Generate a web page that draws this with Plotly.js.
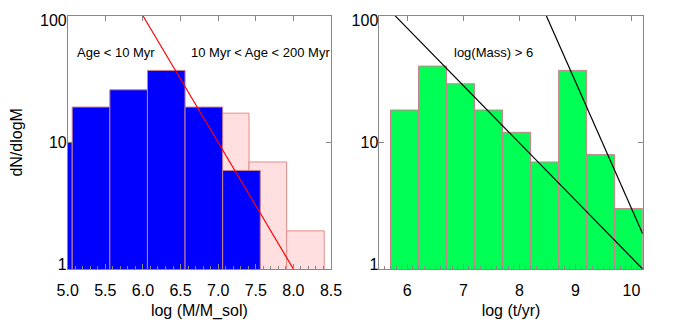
<!DOCTYPE html>
<html><head><meta charset="utf-8">
<script src="https://cdn.plot.ly/plotly-3.0.1.min.js"></script>
<style>html,body{margin:0;padding:0;background:#fff}#plot{width:676px;height:325px}</style>
</head><body><div id="plot"></div>
<script>
// Left panel: mass function
const massBinsYoung = [4.81, 5.31, 5.81, 6.31, 6.81, 7.31];
const countsYoung   = [10, 19, 26, 37, 19, 6];
const massBinsOld   = [7.16, 7.66, 8.16];
const countsOld     = [17, 7, 2];
const massFitX = [6.0, 8.0];
const massFitY = [100, 1];
// Right panel: age distribution
const ageBins   = [5.95, 6.45, 6.95, 7.45, 7.95, 8.45, 8.95, 9.45, 9.95];
const ageCounts = [18, 40, 29, 18, 12, 7, 37, 8, 3];
const ageFit1X = [5.78, 10.2];
const ageFit1Y = [100, 1];
const ageFit2X = [8.48, 10.2];
const ageFit2Y = [100, 1.9];
const yTickVals = [1, 10, 100];
const yTickText = ['1', '10', '100'];
const labels = ['Age < 10 Myr', '10 Myr < Age < 200 Myr', 'log(Mass) > 6'];

const W = 676, H = 325;
const font = 'Liberation Sans, Arial, Helvetica, sans-serif';
const edge = 'rgb(200,130,140)';
// label positions nudged inward at the ends of the axis (as in the original)
const labelPos = yTickVals.map((v, i) => v * Math.pow(10, i === 0 ? 0.04 : (i === yTickVals.length - 1 ? -0.04 : 0)));
const data = [
  {type:'bar', x:massBinsOld, y:countsOld, width:0.5, xaxis:'x', yaxis:'y',
   marker:{color:'#ffdfdf', line:{color:'rgb(228,140,140)', width:1}}},
  {type:'bar', x:massBinsYoung, y:countsYoung, width:0.5, xaxis:'x', yaxis:'y',
   marker:{color:'#0000ff', line:{color:edge, width:1}}},
  {type:'scatter', mode:'lines', x:massFitX, y:massFitY, xaxis:'x', yaxis:'y',
   line:{color:'#ff0000', width:1.2}},
  {type:'bar', x:ageBins, y:ageCounts, width:0.5, xaxis:'x2', yaxis:'y2',
   marker:{color:'#00ff55', line:{color:edge, width:1}}},
  {type:'scatter', mode:'lines', x:ageFit1X, y:ageFit1Y, xaxis:'x2', yaxis:'y2',
   line:{color:'#000000', width:1.2}},
  {type:'scatter', mode:'lines', x:ageFit2X, y:ageFit2Y, xaxis:'x2', yaxis:'y2',
   line:{color:'#000000', width:1.2}},
  {type:'scatter', mode:'markers', x:[5], y:[1], xaxis:'x3', yaxis:'y3', marker:{opacity:0}, hoverinfo:'skip'},
  {type:'scatter', mode:'markers', x:[6], y:[1], xaxis:'x4', yaxis:'y4', marker:{opacity:0}, hoverinfo:'skip'}
];
const yDom = [(H-269)/H, (H-15.7)/H];
const axCommon = {showgrid:false, zeroline:false, linecolor:'#888', linewidth:1, ticks:'inside',
  tickcolor:'#888', ticklen:5, tickfont:{family:font, size:16, color:'#000'}};
const xlab = {ticklabelstandoff:7};
const layout = {
  width:W, height:H, margin:{l:0, r:0, t:0, b:0}, showlegend:false, barmode:'overlay',
  paper_bgcolor:'#fff', plot_bgcolor:'#fff', font:{family:font, color:'#000'},
  xaxis:Object.assign({}, axCommon, xlab, {domain:[67.7/W, 331/W], range:[5, 8.5], anchor:'y',
    tick0:5, dtick:0.5, tickformat:'.1f', mirror:true,
    minor:{dtick:0.1, ticks:'inside', ticklen:3, tickcolor:'#888'},
    title:{text:'log (M/M_sol)', font:{family:font, size:16}, standoff:6}}),
  xaxis3:Object.assign({}, axCommon, {overlaying:'x', side:'top', range:[5, 8.5], anchor:'y',
    tick0:5, dtick:0.5, showticklabels:false}),
  yaxis:Object.assign({}, axCommon, {domain:yDom, type:'log', range:[0, 2], anchor:'x',
    tickvals:yTickVals, showticklabels:false, mirror:'ticks',
    title:{text:'dN/dlogM', font:{family:font, size:16}, standoff:40}}),
  yaxis3:Object.assign({}, axCommon, {overlaying:'y', type:'log', range:[0, 2], anchor:'x',
    tickvals:labelPos, ticktext:yTickText, ticks:'', showline:false}),
  xaxis2:Object.assign({}, axCommon, xlab, {domain:[379.3/W, 642.7/W], range:[5.5, 10.2], anchor:'y2',
    tick0:6, dtick:1, mirror:true,
    minor:{dtick:0.1, ticks:'inside', ticklen:3, tickcolor:'#888'},
    title:{text:'log (t/yr)', font:{family:font, size:16}, standoff:6}}),
  xaxis4:Object.assign({}, axCommon, {overlaying:'x2', side:'top', range:[5.5, 10.2], anchor:'y2',
    tick0:6, dtick:1, showticklabels:false}),
  yaxis2:Object.assign({}, axCommon, {domain:yDom, type:'log', range:[0, 2], anchor:'x2',
    tickvals:yTickVals, showticklabels:false, mirror:'ticks'}),
  yaxis4:Object.assign({}, axCommon, {overlaying:'y2', type:'log', range:[0, 2], anchor:'x2',
    tickvals:labelPos, ticktext:yTickText, ticks:'', showline:false}),
  annotations:[
    {text:labels[0], xref:'x', yref:'y', x:5.097, y:1.713, xanchor:'left', yanchor:'middle', showarrow:false, font:{family:font, size:13}},
    {text:labels[1], xref:'x', yref:'y', x:6.61, y:1.713, xanchor:'left', yanchor:'middle', showarrow:false, font:{family:font, size:13}},
    {text:labels[2], xref:'x2', yref:'y2', x:7.53, y:1.713, xanchor:'center', yanchor:'middle', showarrow:false, font:{family:font, size:13}}
  ]
};
Plotly.newPlot('plot', data, layout, {staticPlot:true});
</script></body></html>
